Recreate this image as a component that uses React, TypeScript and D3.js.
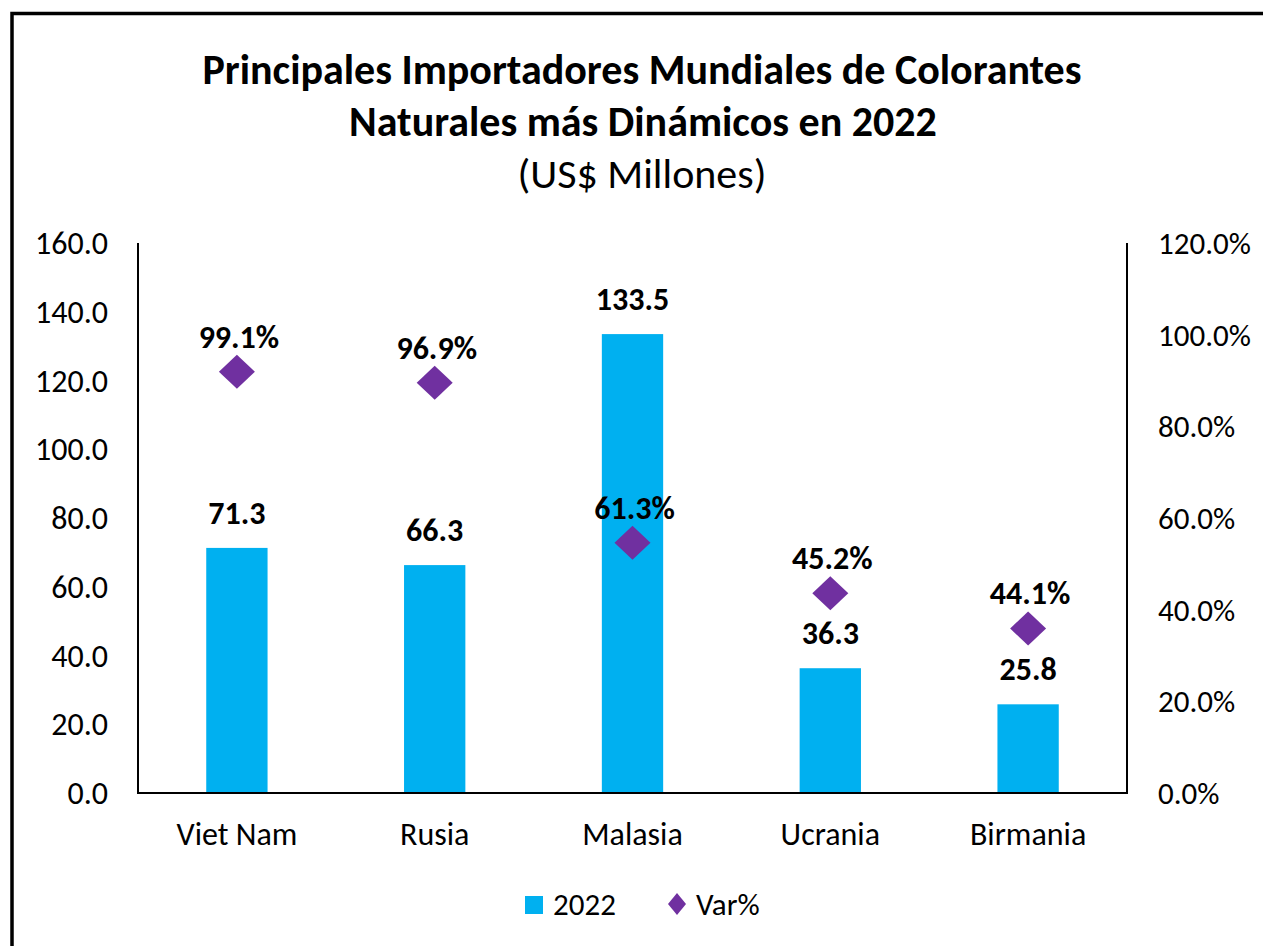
import React from "react";
import * as d3 from "d3";

const categories = ["Viet Nam", "Rusia", "Malasia", "Ucrania", "Birmania"];
const values2022 = [71.3, 66.3, 133.5, 36.3, 25.8];
// Diamond positions as drawn (right axis, %)
const varPlotted = [91.9, 89.5, 54.6, 43.6, 35.9];
// Data labels as printed next to diamonds
const varLabels = ["99.1%", "96.9%", "61.3%", "45.2%", "44.1%"];
const leftTicks = [0, 20, 40, 60, 80, 100, 120, 140, 160];
const rightTicks = [0, 20, 40, 60, 80, 100, 120];
const titleLines = [
  "Principales Importadores Mundiales de Colorantes",
  "Naturales más Dinámicos en 2022",
];
const subtitle = "(US$ Millones)";
const legendItems = ["2022", "Var%"];

const W = 1263;
const H = 946;
const FONT = "Carlito, Calibri, Lato, 'Open Sans', sans-serif";
const BAR = "#00B0F0";
const DIA = "#7030A0";

export default function App() {
  const left = 138;
  const right = 1127;
  const top = 243;
  const bottom = 793;

  const x = d3.scaleBand<string>().domain(categories).range([left, right]).padding(0);
  const yL = d3.scaleLinear().domain([0, 160]).range([bottom, top]);
  const yR = d3.scaleLinear().domain([0, 120]).range([bottom, top]);
  const barW = x.bandwidth() * 0.31;
  const fmt1 = d3.format(".1f");

  const diamond = (cx: number, cy: number, hw: number, hh: number) =>
    `M${cx},${cy - hh}L${cx + hw},${cy}L${cx},${cy + hh}L${cx - hw},${cy}Z`;

  return (
    <svg
      width={W}
      height={H}
      style={{ position: "absolute", left: 0, top: 0, display: "block", background: "#fff" }}
      fontFamily={FONT}
    >
      <rect x={0} y={0} width={W} height={H} fill="#fff" />
      <rect x={12} y={13.5} width={W + 50} height={H + 50} fill="none" stroke="#000" strokeWidth={3.5} />

      {/* Title */}
      <text x={642} y={84} textAnchor="middle" fontWeight="bold" fontSize={42} fill="#000">
        {titleLines[0]}
      </text>
      <text x={643} y={136} textAnchor="middle" fontWeight="bold" fontSize={42} fill="#000">
        {titleLines[1]}
      </text>
      <text x={642} y={188} textAnchor="middle" fontSize={42} fill="#000">
        {subtitle}
      </text>

      {/* Bars */}
      {categories.map((c, i) => {
        const cx = (x(c) as number) + x.bandwidth() / 2;
        return (
          <rect
            key={c}
            x={cx - barW / 2}
            y={yL(values2022[i])}
            width={barW}
            height={yL(0) - yL(values2022[i])}
            fill={BAR}
          />
        );
      })}

      {/* Axes */}
      <line x1={left} y1={top} x2={left} y2={bottom} stroke="#000" strokeWidth={2} />
      <line x1={right} y1={top} x2={right} y2={bottom} stroke="#000" strokeWidth={2} />
      <line x1={left - 1} y1={bottom} x2={right + 1} y2={bottom} stroke="#000" strokeWidth={2} />

      {leftTicks.map((t) => (
        <text key={t} x={108} y={yL(t)} dy="0.35em" textAnchor="end" fontSize={32} fill="#000">
          {fmt1(t)}
        </text>
      ))}
      {rightTicks.map((t) => (
        <text key={t} x={1158} y={yR(t)} dy="0.35em" textAnchor="start" fontSize={31} fill="#000">
          {fmt1(t) + "%"}
        </text>
      ))}
      {categories.map((c) => (
        <text
          key={c}
          x={(x(c) as number) + x.bandwidth() / 2}
          y={845}
          textAnchor="middle"
          fontSize={32}
          fill="#000"
        >
          {c}
        </text>
      ))}

      {/* Bar labels */}
      {categories.map((c, i) => (
        <text
          key={c}
          x={(x(c) as number) + x.bandwidth() / 2}
          y={yL(values2022[i]) - 24}
          textAnchor="middle"
          fontWeight="bold"
          fontSize={32}
          fill="#000"
        >
          {fmt1(values2022[i])}
        </text>
      ))}

      {/* Diamonds */}
      {categories.map((c, i) => {
        const cx = (x(c) as number) + x.bandwidth() / 2;
        return <path key={c} d={diamond(cx, yR(varPlotted[i]), 18, 17)} fill={DIA} />;
      })}
      {categories.map((c, i) => (
        <text
          key={c}
          x={(x(c) as number) + x.bandwidth() / 2 + 2}
          y={yR(varPlotted[i]) - 24}
          textAnchor="middle"
          fontWeight="bold"
          fontSize={32}
          fill="#000"
        >
          {varLabels[i]}
        </text>
      ))}

      {/* Legend */}
      <rect x={525} y={896} width={18} height={18} fill={BAR} />
      <text x={553} y={915} fontSize={31} fill="#000">
        {legendItems[0]}
      </text>
      <path d={diamond(677, 904, 9, 11)} fill={DIA} />
      <text x={696} y={915} fontSize={31} fill="#000">
        {legendItems[1]}
      </text>
    </svg>
  );
}
